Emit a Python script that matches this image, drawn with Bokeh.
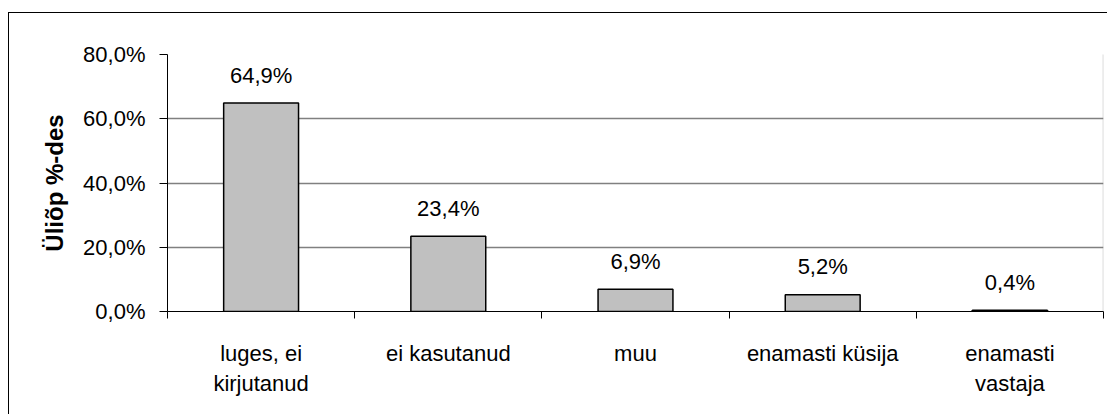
from bokeh.plotting import figure
from bokeh.models import FixedTicker, ColumnDataSource, BoxAnnotation
from bokeh.core.properties import value
from bokeh.embed import file_html
from bokeh.resources import INLINE

categories = ["luges, ei\nkirjutanud", "ei kasutanud", "muu", "enamasti küsija", "enamasti\nvastaja"]
values = [64.9, 23.4, 6.9, 5.2, 0.4]
value_labels = ["64,9%", "23,4%", "6,9%", "5,2%", "0,4%"]
y_ticks = [0, 20, 40, 60, 80]
y_tick_labels = ["0,0%", "20,0%", "40,0%", "60,0%", "80,0%"]
y_title = "Üliõp %-des"

FONT = "Liberation Sans"
FS = "22px"
n = len(categories)
xs = [i + 0.5 for i in range(n)]

src = ColumnDataSource(dict(x=xs, top=values, lab=value_labels))

p = figure(width=1099, height=402, output_backend="svg", toolbar_location=None,
           x_range=(0, n), y_range=(0, 80),
           min_border_left=158, min_border_right=5, min_border_top=41, min_border_bottom=104,
           margin=(12, 0, 0, 8),
           styles={"border-left": "1px solid black", "border-top": "1px solid black"})
p.background_fill_color = "white"
p.border_fill_color = "white"
p.outline_line_color = None

p.vbar(x="x", top="top", width=0.4, source=src, fill_color="#C0C0C0",
       line_color="black", line_width=1.5)
p.text(x="x", y="top", text="lab", source=src, text_align="center",
       text_baseline="middle", y_offset=-28, text_font=value(FONT),
       text_font_size=FS, text_color="black")

# y axis
p.yaxis.ticker = FixedTicker(ticks=y_ticks)
p.yaxis.major_label_overrides = {t: l for t, l in zip(y_ticks, y_tick_labels)}
p.yaxis.major_label_text_font = FONT
p.yaxis.major_label_text_font_size = FS
p.yaxis.major_label_text_color = "black"
p.yaxis.major_tick_out = 8
p.yaxis.major_tick_in = 0
p.yaxis.minor_tick_out = 0
p.yaxis.minor_tick_in = 0
p.yaxis.major_label_standoff = 14
p.yaxis.axis_line_color = "black"
p.yaxis.major_tick_line_color = "black"
p.yaxis.axis_label = y_title
p.yaxis.axis_label_text_font = FONT
p.yaxis.axis_label_text_font_style = "bold"
p.yaxis.axis_label_text_font_size = "24px"
p.yaxis.axis_label_text_color = "black"
p.yaxis.axis_label_standoff = 12

# x axis with ticks at category boundaries
p.xaxis.ticker = FixedTicker(ticks=xs, minor_ticks=list(range(n + 1)))
p.xaxis.major_label_overrides = {x: c for x, c in zip(xs, categories)}
p.xaxis.major_tick_out = 0
p.xaxis.major_tick_in = 0
p.xaxis.minor_tick_out = 7
p.xaxis.minor_tick_in = 0
p.xaxis.minor_tick_line_color = "black"
p.xaxis.axis_line_color = "black"
p.xaxis.major_label_text_font = FONT
p.xaxis.major_label_text_font_size = FS
p.xaxis.major_label_text_color = "black"
p.xaxis.major_label_standoff = 22
p.xaxis.major_label_text_line_height = 1.2

p.xgrid.grid_line_color = None
p.ygrid.grid_line_color = "#808080"
p.ygrid.grid_line_width = 1.3

# right border of plot area
p.add_layout(BoxAnnotation(left=n - 0.001, right=n, fill_alpha=0,
                           line_color="#808080", line_width=1.5))

open("out.html", "w").write(file_html(p, INLINE))
